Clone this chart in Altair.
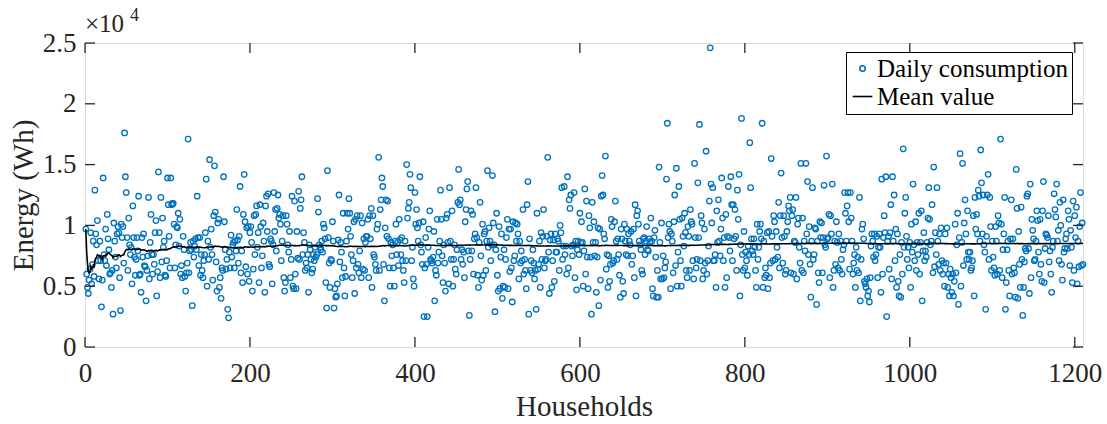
import altair as alt
import pandas as pd

# Daily energy per household, in units of 10^4 Wh, grouped in blocks of households
# (block k starts at household 103*k + 1; the last block holds 77 households)
SEG_SIZES = [103] * 11 + [77]

seg01 = [0.97, 0.60, 0.49, 0.44, 0.55, 0.94, 0.52, 0.68, 0.87, 1.29,
         0.93, 0.84, 1.04, 0.56, 0.87, 0.71, 0.33, 1.39, 0.76, 0.71,
         0.97, 1.09, 0.89, 0.80, 0.60, 0.49, 0.63, 0.27, 1.02, 0.87,
         0.65, 0.93, 0.99, 0.94, 0.30, 1.01, 0.90, 0.99, 1.76, 1.40,
         1.27, 0.90, 1.06, 0.84, 0.76, 0.82, 1.16, 0.90, 0.74, 0.59,
         0.90, 0.79, 1.24, 0.59, 0.45, 0.90, 0.74, 0.93, 0.67, 0.38,
         0.63, 0.75, 1.23, 0.86, 1.09, 0.76, 0.60, 0.68, 0.94, 1.04,
         0.42, 1.44, 0.94, 0.57, 1.23, 1.06, 0.82, 0.87, 0.59, 0.71,
         1.39, 1.17, 0.91]
seg02 = [1.39, 1.17, 1.18, 1.18, 1.01, 0.65, 0.84, 0.99, 0.98, 1.10,
         0.83, 1.05, 0.60, 0.67, 0.57, 0.91, 0.80, 0.46, 0.61, 0.69,
         1.71, 0.61, 0.79, 0.86, 0.80, 0.34, 0.87, 0.74, 0.83, 0.89,
         0.80, 1.24, 0.90, 0.90, 0.59, 0.76, 0.63, 0.57, 0.71, 0.76,
         0.94, 1.38, 0.50, 0.87, 0.72, 1.54, 0.82, 0.97, 0.76, 1.08,
         1.49, 1.11, 0.70, 0.46, 1.02, 1.05, 0.49, 0.57, 0.40, 0.65,
         0.63, 1.40, 1.03, 0.80, 0.64, 0.31, 0.24, 0.78, 0.65, 0.92,
         0.74, 0.84, 0.86, 0.65, 0.87, 0.79, 1.13, 0.88, 0.69, 0.91,
         1.32, 0.79, 0.53, 1.09, 1.42, 1.03, 0.66, 0.98, 0.60, 0.99,
         0.54, 0.94, 0.99, 0.86, 0.46, 0.64, 1.08]
seg03 = [1.09, 1.16, 0.82, 0.94, 0.53, 1.17, 0.99, 0.65, 0.75, 1.02,
         0.87, 0.45, 1.16, 1.24, 0.95, 1.26, 0.68, 0.89, 0.87, 0.52,
         0.84, 1.27, 0.95, 1.13, 0.79, 1.14, 1.25, 1.06, 1.09, 1.01,
         0.71, 0.87, 1.08, 0.46, 0.53, 1.08, 1.01, 0.84, 0.78, 0.95,
         0.57, 0.72, 1.24, 0.50, 0.48, 1.20, 0.60, 0.48, 0.95, 1.28,
         0.72, 1.14, 1.21, 1.40, 0.76, 0.94, 0.86, 0.63, 0.69, 0.65,
         0.76, 0.45, 0.84, 0.80, 0.72, 0.64, 0.76, 0.71, 0.82, 0.74,
         0.76, 1.22, 1.11, 0.84, 0.82, 0.80, 0.87, 0.78, 1.01, 0.98,
         0.89, 0.32, 1.45, 0.90, 0.69, 0.49, 0.72, 0.71, 1.03, 0.87,
         0.32, 0.48, 0.41, 0.42, 0.52, 0.88, 1.25]
seg04 = [0.86, 0.78, 0.57, 1.10, 0.65, 0.42, 0.58, 0.87, 1.10, 0.97,
         1.22, 1.10, 0.91, 0.76, 0.57, 0.71, 1.03, 0.44, 1.05, 0.65,
         1.08, 0.68, 0.61, 0.79, 1.08, 0.57, 1.02, 0.64, 0.89, 0.63,
         0.86, 0.91, 0.91, 1.05, 0.57, 1.08, 0.89, 1.14, 0.49, 1.08,
         0.76, 0.74, 0.68, 0.63, 0.97, 1.01, 1.56, 0.63, 1.13, 1.21,
         1.39, 1.32, 0.68, 0.38, 0.98, 1.21, 0.91, 1.20, 0.89, 0.65,
         0.50, 0.86, 0.75, 0.84, 0.65, 0.50, 0.87, 1.01, 0.76, 0.86,
         0.67, 1.05, 0.88, 0.76, 0.90, 0.71, 0.63, 0.53, 0.87, 0.71,
         1.50, 1.06, 1.14, 1.19, 1.42, 1.31, 0.71, 0.82, 0.56, 0.50,
         1.27, 1.01, 1.13, 0.98, 0.87, 1.02, 1.40, 0.84, 0.78, 0.68,
         1.03, 0.25]
seg05 = [0.90, 0.68, 0.25, 0.82, 0.97, 1.12, 0.72, 0.71, 0.69, 0.74,
         0.95, 0.38, 0.63, 0.59, 1.05, 0.69, 0.78, 0.87, 1.29, 1.05,
         0.75, 0.53, 0.84, 0.69, 0.46, 1.06, 1.09, 0.86, 0.52, 1.31,
         0.87, 0.72, 1.12, 0.50, 0.72, 0.84, 0.64, 0.60, 0.80, 1.19,
         1.46, 1.17, 1.21, 0.72, 0.80, 0.68, 0.78, 0.57, 1.03, 1.13,
         1.30, 1.36, 0.79, 0.26, 0.72, 1.12, 0.79, 1.09, 0.60, 0.89,
         0.93, 1.31, 0.90, 0.59, 0.49, 0.86, 1.19, 0.75, 0.55, 1.01,
         0.59, 0.93, 0.95, 0.63, 0.87, 1.45, 0.82, 0.98, 0.87, 0.71,
         0.84, 1.41, 1.02, 0.84, 0.29, 0.80, 1.10, 0.59, 0.46, 0.99,
         0.48, 0.74, 0.93, 0.40, 0.50, 0.80, 0.49, 0.72, 0.90, 1.05,
         0.48, 0.97]
seg06 = [0.97, 0.65, 0.37, 1.03, 0.71, 0.75, 1.02, 0.87, 1.01, 0.93,
         0.56, 0.87, 0.69, 0.79, 0.71, 1.13, 0.60, 0.72, 0.63, 0.48,
         1.17, 1.36, 0.27, 0.89, 0.63, 0.71, 0.61, 0.80, 0.69, 0.56,
         0.63, 0.31, 1.10, 0.64, 0.87, 0.49, 0.94, 0.72, 0.91, 1.13,
         0.65, 0.71, 0.72, 0.91, 1.56, 0.78, 0.44, 0.88, 0.93, 0.49,
         0.71, 0.88, 0.54, 0.93, 0.78, 0.78, 0.89, 0.87, 0.63, 1.00,
         0.94, 1.31, 0.72, 0.83, 1.32, 0.76, 0.83, 1.40, 0.65, 1.21,
         1.14, 1.25, 0.83, 0.75, 0.84, 1.27, 0.57, 0.87, 0.47, 0.80,
         0.87, 0.76, 1.10, 0.86, 1.03, 0.86, 0.50, 0.79, 1.30, 0.60,
         1.20, 0.74, 0.48, 1.08, 0.98, 0.74, 0.27, 1.19, 0.86, 1.03]
seg07 = [0.86, 0.45, 0.74, 0.98, 0.34, 0.97, 0.55, 1.24, 1.41, 1.25,
         0.93, 0.89, 1.57, 0.64, 0.76, 0.49, 0.75, 0.54, 0.68, 1.05,
         0.99, 0.69, 0.71, 1.03, 1.20, 0.87, 0.72, 0.89, 0.76, 0.59,
         0.41, 0.97, 0.89, 0.54, 0.44, 1.01, 0.87, 0.76, 0.97, 0.75,
         0.93, 0.87, 0.84, 0.95, 0.68, 0.75, 0.97, 0.57, 1.17, 0.42,
         1.08, 1.12, 1.01, 0.87, 0.84, 0.80, 0.63, 0.60, 0.89, 0.90,
         0.76, 0.87, 0.99, 0.80, 0.79, 0.89, 0.86, 1.06, 0.87, 0.48,
         0.42, 0.90, 0.96, 0.74, 0.41, 0.63, 0.41, 1.48, 0.86, 0.56,
         1.02, 0.56, 0.75, 0.57, 0.65, 0.70, 1.38, 1.84, 0.90, 1.01,
         0.95, 0.48, 0.93, 0.87, 0.61, 1.03, 1.25, 0.67, 1.47, 0.50,
         0.78, 1.32, 1.05]
seg08 = [0.71, 0.50, 1.06, 0.91, 0.83, 1.10, 0.94, 0.63, 0.57, 0.99,
         0.91, 0.63, 1.13, 1.03, 1.01, 0.71, 0.56, 1.51, 0.90, 0.65,
         0.72, 1.35, 0.90, 1.83, 0.71, 1.08, 1.02, 0.56, 0.63, 0.97,
         0.69, 1.61, 0.60, 0.71, 0.83, 1.20, 2.46, 1.34, 1.02, 1.31,
         0.71, 0.71, 0.76, 0.49, 1.12, 0.86, 1.21, 0.87, 0.75, 0.97,
         1.39, 1.06, 0.71, 0.90, 0.49, 1.09, 0.57, 0.91, 1.32, 0.90,
         0.79, 1.40, 1.17, 0.71, 1.17, 0.89, 1.13, 0.91, 0.63, 1.29,
         1.05, 1.42, 0.42, 0.84, 1.88, 0.76, 0.63, 0.95, 0.65, 0.78,
         0.71, 0.59, 0.83, 0.76, 1.68, 1.31, 0.89, 0.79, 0.76, 0.89,
         0.82, 0.63, 0.49, 1.01, 0.72, 0.82, 0.95, 1.01, 0.89, 1.84,
         0.49, 0.87, 0.57]
seg09 = [0.65, 0.59, 0.94, 0.48, 0.95, 0.57, 0.69, 1.55, 0.91, 0.71,
         1.08, 1.03, 0.72, 0.95, 0.82, 0.74, 1.19, 0.65, 1.08, 1.43,
         0.90, 0.69, 1.08, 0.91, 0.60, 0.63, 0.95, 1.03, 1.16, 1.12,
         1.23, 0.61, 1.08, 1.13, 0.60, 0.87, 0.86, 1.23, 0.56, 1.01,
         1.06, 0.82, 0.69, 1.51, 0.63, 1.06, 0.61, 0.87, 0.79, 1.51,
         0.93, 1.36, 0.76, 0.99, 0.68, 0.41, 0.87, 1.31, 0.72, 0.76,
         0.98, 0.97, 0.35, 0.87, 0.61, 0.53, 1.03, 0.90, 1.02, 0.61,
         0.90, 1.33, 0.84, 0.82, 1.57, 0.89, 0.90, 1.09, 0.57, 1.08,
         0.93, 1.34, 0.49, 0.63, 0.87, 0.68, 1.03, 0.86, 0.65, 0.93,
         0.63, 0.87, 0.72, 0.60, 0.80, 0.84, 1.27, 1.10, 0.87, 1.16,
         1.27, 1.03]
seg10 = [1.27, 1.06, 0.87, 0.60, 0.69, 0.76, 0.49, 0.82, 0.63, 0.74,
         0.61, 1.23, 0.38, 0.72, 0.97, 1.01, 0.89, 0.54, 0.52, 0.49,
         0.56, 0.42, 0.46, 0.37, 0.57, 0.83, 0.93, 0.87, 0.74, 0.93,
         0.71, 0.76, 0.91, 0.57, 0.82, 0.93, 0.82, 0.45, 1.38, 0.60,
         0.90, 1.08, 0.94, 1.40, 0.25, 0.87, 0.91, 0.64, 0.94, 1.17,
         0.56, 1.40, 0.87, 1.25, 0.71, 0.97, 0.49, 0.93, 0.54, 0.42,
         0.76, 0.41, 0.86, 0.60, 1.63, 0.82, 1.10, 1.23, 0.91, 0.72,
         0.82, 0.65, 0.86, 0.49, 1.01, 0.78, 1.34, 0.84, 0.71, 1.03,
         0.63, 0.86, 0.76, 1.10, 0.60, 0.86, 1.12, 0.38, 0.79, 0.94,
         0.71, 0.79, 0.74, 0.86, 1.06, 1.31, 1.05, 0.84, 0.87, 1.17,
         0.61, 1.48]
seg11 = [0.94, 0.76, 1.31, 0.87, 0.68, 0.93, 0.63, 0.98, 0.71, 0.60,
         0.69, 0.50, 0.93, 0.69, 0.98, 0.49, 0.60, 0.42, 0.64, 0.57,
         0.45, 0.60, 0.42, 0.54, 1.01, 0.61, 0.84, 1.10, 0.35, 0.90,
         1.59, 0.50, 0.86, 1.51, 0.67, 1.02, 1.21, 0.93, 0.72, 1.12,
         0.78, 0.72, 0.78, 0.63, 0.65, 0.71, 1.08, 0.42, 1.23, 0.97,
         1.09, 0.93, 1.29, 1.24, 0.87, 1.62, 1.35, 0.93, 1.25, 0.84,
         0.78, 0.31, 0.91, 1.25, 1.42, 0.72, 1.23, 0.99, 0.63, 0.87,
         0.74, 0.65, 0.59, 0.99, 0.87, 0.60, 1.08, 1.02, 0.63, 1.71,
         1.01, 0.57, 0.80, 0.93, 1.23, 0.31, 0.53, 0.80, 0.87, 0.63,
         0.42, 0.89, 1.21, 0.60, 0.89, 0.65, 0.61, 0.41, 1.46, 1.14,
         0.40, 0.95]
seg12 = [0.49, 1.15, 0.72, 0.26, 0.49, 0.70, 0.81, 0.79, 1.24, 1.26,
         0.81, 0.44, 1.34, 0.57, 1.05, 0.96, 0.89, 0.71, 0.72, 0.87,
         1.12, 1.04, 0.78, 0.60, 1.05, 0.68, 0.54, 1.12, 1.36, 0.53,
         0.81, 0.93, 0.92, 0.90, 1.08, 0.70, 0.79, 0.60, 0.45, 0.82,
         0.87, 1.26, 1.13, 1.07, 1.34, 0.87, 0.96, 0.71, 1.19, 1.00,
         0.68, 0.55, 1.21, 0.78, 0.81, 0.89, 0.93, 0.81, 1.12, 1.05,
         0.67, 0.96, 0.82, 0.53, 1.20, 0.63, 1.08, 0.90, 1.15, 0.52,
         0.87, 0.66, 0.99, 1.27, 0.67, 1.02, 0.68]

# Households packed inside the dense lower band of each block (overlapping markers)
band01 = [0.64, 0.58, 0.71, 0.55, 0.67, 0.61, 0.74, 0.57, 0.69, 0.63,
          0.52, 0.72, 0.60, 0.66, 0.56, 0.76, 0.62, 0.70, 0.58, 0.65,
          0.54, 0.73, 0.61, 0.68, 0.57, 0.75, 0.63, 0.53, 0.71, 0.59]
band02 = [0.58, 0.67, 0.55, 0.72, 0.61, 0.76, 0.57, 0.65, 0.70, 0.53,
          0.63, 0.74, 0.60, 0.68, 0.56, 0.71, 0.62, 0.78, 0.58, 0.66,
          0.54, 0.69, 0.61, 0.73, 0.64, 0.52, 0.75, 0.59, 0.67, 0.62]
band03 = [0.66, 0.57, 0.73, 0.61, 0.53, 0.70, 0.64, 0.77, 0.59, 0.68,
          0.55, 0.72, 0.60, 0.65, 0.79, 0.58, 0.69, 0.63, 0.52, 0.74,
          0.60, 0.67, 0.56, 0.71, 0.62, 0.76, 0.57, 0.70, 0.64, 0.54]
band04 = [0.65, 0.58, 0.74, 0.60, 0.69, 0.54, 0.72, 0.62, 0.78, 0.57,
          0.67, 0.59, 0.71, 0.55, 0.76, 0.63, 0.68, 0.52, 0.73, 0.61,
          0.66, 0.58, 0.70, 0.56, 0.75, 0.64, 0.53, 0.69, 0.60, 0.72]
band05 = [0.62, 0.71, 0.57, 0.67, 0.78, 0.59, 0.74, 0.54, 0.65, 0.70,
          0.58, 0.73, 0.61, 0.68, 0.53, 0.76, 0.64, 0.69, 0.56, 0.72,
          0.60, 0.66, 0.55, 0.75, 0.63, 0.71, 0.58, 0.67, 0.52, 0.74]
band06 = [0.68, 0.60, 0.75, 0.56, 0.71, 0.63, 0.79, 0.58, 0.66, 0.53,
          0.73, 0.61, 0.69, 0.57, 0.77, 0.64, 0.70, 0.55, 0.72, 0.59,
          0.67, 0.62, 0.76, 0.58, 0.65, 0.74, 0.54, 0.70, 0.60, 0.68]
band07 = [0.67, 0.59, 0.74, 0.57, 0.70, 0.63, 0.78, 0.55, 0.72, 0.61,
          0.66, 0.58, 0.75, 0.60, 0.69, 0.53, 0.73, 0.65, 0.58, 0.71,
          0.62, 0.76, 0.56, 0.68, 0.64, 0.72, 0.59, 0.66, 0.54, 0.74]
band08 = [0.65, 0.72, 0.58, 0.69, 0.76, 0.61, 0.67, 0.55, 0.73, 0.63,
          0.70, 0.57, 0.78, 0.60, 0.66, 0.53, 0.74, 0.64, 0.71, 0.58,
          0.68, 0.62, 0.75, 0.56, 0.69, 0.59, 0.72, 0.65, 0.54, 0.70]
band09 = [0.64, 0.71, 0.58, 0.68, 0.75, 0.60, 0.66, 0.54, 0.72, 0.62,
          0.69, 0.57, 0.77, 0.59, 0.65, 0.73, 0.56, 0.70, 0.63, 0.67,
          0.58, 0.74, 0.61, 0.69, 0.55, 0.72, 0.65, 0.60, 0.76, 0.66]
band10 = [0.66, 0.73, 0.59, 0.70, 0.77, 0.62, 0.68, 0.56, 0.74, 0.64,
          0.71, 0.58, 0.79, 0.61, 0.67, 0.54, 0.75, 0.65, 0.72, 0.60,
          0.69, 0.63, 0.76, 0.57, 0.70, 0.62, 0.73, 0.66, 0.55, 0.71]
band11 = [0.68, 0.74, 0.61, 0.71, 0.78, 0.64, 0.69, 0.58, 0.75, 0.65,
          0.72, 0.60, 0.80, 0.63, 0.70, 0.56, 0.76, 0.67, 0.73, 0.62,
          0.71, 0.65, 0.77, 0.59, 0.72, 0.64, 0.74, 0.68, 0.57, 0.73]
band12 = [0.69, 0.75, 0.62, 0.72, 0.79, 0.65, 0.70, 0.59, 0.76, 0.66,
          0.73, 0.61, 0.81, 0.64, 0.71, 0.57, 0.77, 0.68, 0.74, 0.63]

LEGEND_LABELS = ["Daily consumption", "Mean value"]
X_TICKS = [0, 200, 400, 600, 800, 1000, 1200]
Y_TICKS = [0, 0.5, 1, 1.5, 2, 2.5]

BLUE = "#0072BD"
AXIS_COLOR = "#262626"
FONT = "Liberation Serif"
W, H = 998, 304


def block(seen, band, size):
    """Spread the packed households evenly among the visible ones of a block."""
    extra = band[:max(size - len(seen), 0)]
    out, used = [], 0
    for i, v in enumerate(seen):
        out.append(v)
        want = (i + 1) * len(extra) // len(seen)
        while used < want:
            out.append(extra[used])
            used += 1
    return out


seen_blocks = [seg01, seg02, seg03, seg04, seg05, seg06,
               seg07, seg08, seg09, seg10, seg11, seg12]
band_blocks = [band01, band02, band03, band04, band05, band06,
               band07, band08, band09, band10, band11, band12]

energy = []
for s, b, n in zip(seen_blocks, band_blocks, SEG_SIZES):
    energy.extend(block(s, b, n))

df = pd.DataFrame({"household": range(1, len(energy) + 1), "energy": energy})

x_scale = alt.Scale(domain=[0, 1210], nice=False, zero=False)
y_scale = alt.Scale(domain=[0, 2.5], nice=False)

color_scale = alt.Scale(domain=LEGEND_LABELS, range=[BLUE, "black"])
# circle for the samples, a short horizontal line for the running mean
shape_scale = alt.Scale(domain=LEGEND_LABELS, range=["circle", "M-3.6,0L3.6,0"])

legend = alt.Legend(
    title=None, orient="none", legendX=761, legendY=9,
    strokeColor="black", fillColor="white", padding=4,
    labelFont=FONT, labelFontSize=25, labelColor="black", labelOffset=2,
    symbolSize=30, symbolStrokeWidth=1.6, rowPadding=2, labelLimit=400,
)

base = alt.Chart(df)

points = base.transform_calculate(
    series="'%s'" % LEGEND_LABELS[0]
).mark_point(filled=False, size=30, strokeWidth=1.3, opacity=1).encode(
    x=alt.X("household:Q", scale=x_scale,
            axis=alt.Axis(values=X_TICKS, format="d", ticks=False, domain=False,
                          grid=False, labelFlush=False, labelFont=FONT,
                          labelFontSize=27, labelColor=AXIS_COLOR, labelPadding=13,
                          title="Households", titleFont=FONT, titleFontSize=29,
                          titleFontWeight="normal", titleColor=AXIS_COLOR,
                          titlePadding=6)),
    y=alt.Y("energy:Q", scale=y_scale,
            axis=alt.Axis(values=Y_TICKS, format="~g", ticks=False, domain=False,
                          grid=False, labelFlush=False, labelFont=FONT,
                          labelFontSize=27, labelColor=AXIS_COLOR, labelPadding=9,
                          title="Energy (Wh)", titleFont=FONT, titleFontSize=29,
                          titleFontWeight="normal", titleColor=AXIS_COLOR,
                          titlePadding=4)),
    color=alt.Color("series:N", scale=color_scale, legend=legend),
    shape=alt.Shape("series:N", scale=shape_scale, legend=legend),
)

# Running mean over households 1..n
mean_line = base.transform_window(
    mean_value="mean(energy)", frame=[None, 0],
    sort=[alt.SortField("household", order="ascending")],
).transform_calculate(
    series="'%s'" % LEGEND_LABELS[1]
).mark_line(strokeWidth=1.6).encode(
    x=alt.X("household:Q", scale=x_scale),
    y=alt.Y("mean_value:Q", scale=y_scale),
    color=alt.Color("series:N", scale=color_scale, legend=legend),
)

# Inward ticks on all four sides of the box
xt = alt.Chart(pd.DataFrame({"household": X_TICKS}))
yt = alt.Chart(pd.DataFrame({"energy": Y_TICKS}))
tick_style = dict(color=AXIS_COLOR, strokeWidth=1.3)
ticks = alt.layer(
    xt.mark_rule(**tick_style).encode(x=alt.X("household:Q", scale=x_scale),
                                      y=alt.value(H), y2=alt.value(H - 10)),
    xt.mark_rule(**tick_style).encode(x=alt.X("household:Q", scale=x_scale),
                                      y=alt.value(0), y2=alt.value(10)),
    yt.mark_rule(**tick_style).encode(y=alt.Y("energy:Q", scale=y_scale),
                                      x=alt.value(0), x2=alt.value(10)),
    yt.mark_rule(**tick_style).encode(y=alt.Y("energy:Q", scale=y_scale),
                                      x=alt.value(W), x2=alt.value(W - 10)),
)

# "x10^4" exponent note above the y axis
exp_base = alt.Chart(pd.DataFrame({"s": ["\u00d710"]})).mark_text(
    font=FONT, fontSize=25, color=AXIS_COLOR, align="left", baseline="alphabetic"
).encode(text="s:N", x=alt.value(0), y=alt.value(-11))
exp_pow = alt.Chart(pd.DataFrame({"s": ["4"]})).mark_text(
    font=FONT, fontSize=18, color=AXIS_COLOR, align="left", baseline="alphabetic"
).encode(text="s:N", x=alt.value(45), y=alt.value(-22))

chart = alt.layer(points, mean_line, ticks, exp_base, exp_pow).properties(
    width=W, height=H,
    autosize=alt.AutoSizeParams(type="none"),
    padding={"left": 85, "top": 43, "right": 24, "bottom": 77},
).configure_view(
    stroke=AXIS_COLOR, strokeWidth=1.3
).configure(background="white")

chart.save("out.html", embed_options={"renderer": "svg", "actions": False})
